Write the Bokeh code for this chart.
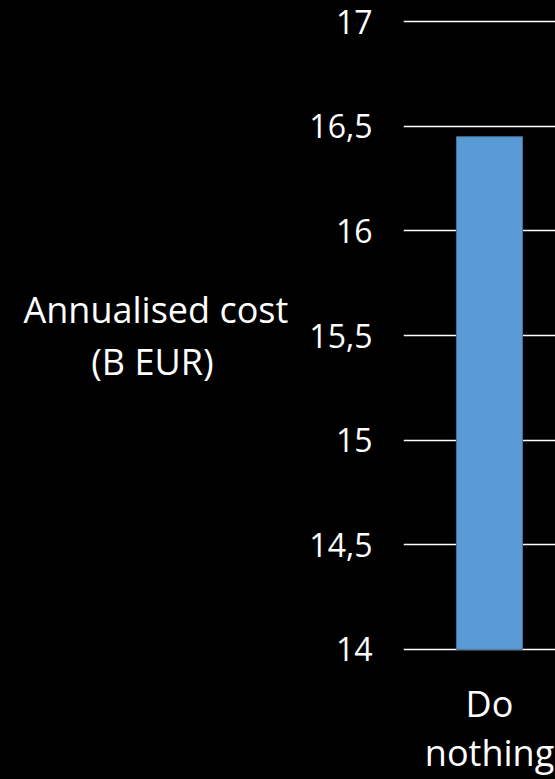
from bokeh.plotting import figure
from bokeh.models import Range1d, FixedTicker, ColumnDataSource
from bokeh.embed import file_html
from bokeh.resources import INLINE

categories = ["Do nothing"]
costs = [16.45]
y_ticks = [14, 14.5, 15, 15.5, 16, 16.5, 17]
y_tick_labels = ["14", "14,5", "15", "15,5", "16", "16,5", "17"]
y_label_lines = ["Annualised cost", "(B EUR)"]

FONT = "Open Sans"
src = ColumnDataSource(dict(x=list(range(len(categories))), top=costs))

X0, X1 = -0.782, 0.6
p = figure(width=555, height=779, output_backend="svg", toolbar_location=None,
           x_range=Range1d(X0, X1), y_range=Range1d(13.99, 17.01),
           background_fill_color="black", border_fill_color="black",
           min_border_left=403, min_border_right=0, min_border_top=19,
           min_border_bottom=127)
p.styles = {"background-color": "black"}
p.outline_line_color = None

p.vbar(x="x", top="top", bottom=14, width=0.6, source=src,
       fill_color="#5B9BD5", line_color="#41719C", line_width=1)

p.xgrid.visible = False
p.ygrid.grid_line_color = "white"
p.ygrid.grid_line_width = 1.5
p.ygrid.ticker = FixedTicker(ticks=y_ticks)

ya = p.yaxis[0]
ya.ticker = FixedTicker(ticks=y_ticks)
ya.major_label_overrides = {t: l for t, l in zip(y_ticks, y_tick_labels)}
ya.axis_line_color = None
ya.major_tick_line_color = None
ya.minor_tick_line_color = None
ya.major_tick_out = 0
ya.minor_tick_out = 0
ya.major_label_text_color = "white"
ya.major_label_text_font = FONT
ya.major_label_text_font_size = "32px"
ya.major_label_standoff = 31
# second line padded with non-breaking spaces so it sits centred under the first
ya.axis_label = y_label_lines[0] + "\n" + y_label_lines[1] + "\u00a0" * 8
ya.axis_label_orientation = "horizontal"
ya.axis_label_text_color = "white"
ya.axis_label_text_font = FONT
ya.axis_label_text_font_size = "36px"
ya.axis_label_text_font_style = "normal"
ya.axis_label_text_line_height = 1.05
ya.axis_label_standoff = 18

xa = p.xaxis[0]
xa.ticker = FixedTicker(ticks=list(range(len(categories))))
xa.major_label_overrides = {i: c.replace(" ", "\n") for i, c in enumerate(categories)}
xa.axis_line_color = None
xa.major_tick_line_color = None
xa.minor_tick_line_color = None
xa.major_tick_out = 0
xa.minor_tick_out = 0
xa.major_label_text_color = "white"
xa.major_label_text_font = FONT
xa.major_label_text_font_size = "36px"
xa.major_label_text_line_height = 1.0
xa.major_label_standoff = 27

open("out.html", "w").write(file_html(p, INLINE))
